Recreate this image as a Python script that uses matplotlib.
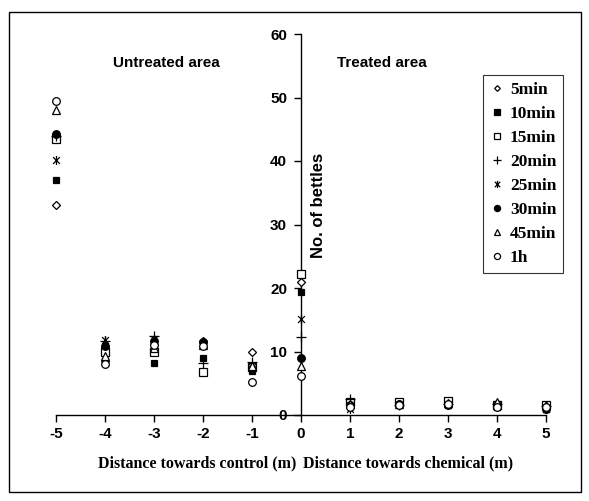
import matplotlib
matplotlib.use("Agg")
import matplotlib.pyplot as plt
from matplotlib.path import Path
from matplotlib.patches import Rectangle

plt.rcParams["axes.unicode_minus"] = False

# distance (m): negative = towards control, positive = towards chemical
distance = [-5, -4, -3, -2, -1, 0, 1, 2, 3, 4, 5]

min5 = [33.0, 8.5, 11.0, 11.7, 10.0, 21.0, 1.5, 1.6, 1.8, 1.5, 1.2]
min10 = [37.0, 10.4, 8.2, 9.0, 7.0, 19.4, 1.8, 1.8, 2.0, 1.8, 1.0]
min15 = [43.5, 10.0, 10.0, 6.7, 7.5, 22.2, 2.0, 2.0, 2.2, 1.5, 1.6]
min20 = [44.0, 11.6, 12.5, 8.2, 8.4, 12.3, 2.5, 1.6, 1.8, 1.8, 1.4]
min25 = [40.2, 11.8, 12.0, 11.2, 7.5, 15.1, 1.0, 1.5, 1.5, 1.2, 1.0]
min30 = [44.3, 10.9, 11.6, 11.5, 7.2, 9.0, 1.5, 1.8, 1.5, 1.6, 1.0]
min45 = [48.0, 9.3, 10.6, 11.0, 7.7, 7.7, 1.8, 1.7, 1.9, 2.0, 1.5]
h1 = [49.5, 8.1, 11.1, 10.8, 5.2, 6.1, 1.2, 1.5, 1.8, 1.3, 1.3]

series_labels = ["5min", "10min", "15min", "20min", "25min", "30min", "45min", "1h"]
series_values = [min5, min10, min15, min20, min25, min30, min45, h1]

# excel style asterisk: vertical bar plus an x
star = Path([(0, -1), (0, 1), (-0.75, -0.75), (0.75, 0.75), (-0.75, 0.75), (0.75, -0.75)],
            [Path.MOVETO, Path.LINETO, Path.MOVETO, Path.LINETO, Path.MOVETO, Path.LINETO])

styles = [
    dict(marker="D", ms=3.6, mfc="white"),
    dict(marker="s", ms=5, mfc="black"),
    dict(marker="s", ms=5.5, mfc="white"),
    dict(marker="+", ms=6.5, mfc="black"),
    dict(marker=star, ms=6.5, mfc="black"),
    dict(marker="o", ms=5.5, mfc="black"),
    dict(marker="^", ms=5.5, mfc="white"),
    dict(marker="o", ms=5.5, mfc="white"),
]

sans = "Liberation Sans"
serif = "Liberation Serif"

fig = plt.figure(figsize=(5.89, 5.01), dpi=100)
ax = fig.add_axes([56 / 589, 86 / 501, 490 / 589, 381 / 501])

for label, vals, st in zip(series_labels, series_values, styles):
    ax.plot(distance, vals, linestyle="none", marker=st["marker"], markersize=st["ms"],
            markerfacecolor=st["mfc"], markeredgecolor="black", markeredgewidth=0.9,
            color="black", label=label, clip_on=False, zorder=3)

ax.set_xlim(-5, 5)
ax.set_ylim(0, 60)
ax.spines["left"].set_position(("data", 0))
ax.spines["top"].set_visible(False)
ax.spines["right"].set_visible(False)
for s in ["left", "bottom"]:
    ax.spines[s].set_linewidth(1.0)

ax.set_xticks(distance)
ax.set_yticks([0, 10, 20, 30, 40, 50, 60])
ax.tick_params(axis="both", direction="out", length=5, width=1, colors="black")
ax.tick_params(axis="x", pad=4)
ax.tick_params(axis="y", pad=5)
for lab in ax.get_xticklabels() + ax.get_yticklabels():
    lab.set_fontfamily(sans)
    lab.set_fontweight("bold")
    lab.set_fontsize(11)

ax.text(0.2, 33, "No. of bettles", rotation=90, ha="left", va="center",
        fontfamily=sans, fontweight="bold", fontsize=12)
ax.text(-2.75, 55.5, "Untreated area", ha="center", va="center",
        fontfamily=sans, fontweight="bold", fontsize=11)
ax.text(1.65, 55.5, "Treated area", ha="center", va="center",
        fontfamily=sans, fontweight="bold", fontsize=11)

fig.text(197 / 589, 1 - 463 / 501, "Distance towards control (m)", ha="center", va="center",
         fontfamily=serif, fontweight="bold", fontsize=11.5)
fig.text(408 / 589, 1 - 463 / 501, "Distance towards chemical (m)", ha="center", va="center",
         fontfamily=serif, fontweight="bold", fontsize=11.5)

leg = ax.legend(loc="upper left", bbox_to_anchor=(483 / 589, 1 - 75 / 501),
                bbox_transform=fig.transFigure, frameon=True, fancybox=False,
                edgecolor="black", borderpad=0.4, labelspacing=0.45, handlelength=0.8,
                handletextpad=0.35, borderaxespad=0,
                prop=dict(family=serif, weight="bold", size=12.5))
leg.get_frame().set_linewidth(0.8)
for h in leg.legend_handles:
    h.set_markersize(h.get_markersize() * 0.8)

fig.patches.append(Rectangle((9 / 589, 9 / 501), 572 / 589, 480 / 501, transform=fig.transFigure,
                             fill=False, edgecolor="black", linewidth=1.0))

fig.savefig("out.png", dpi=100)
